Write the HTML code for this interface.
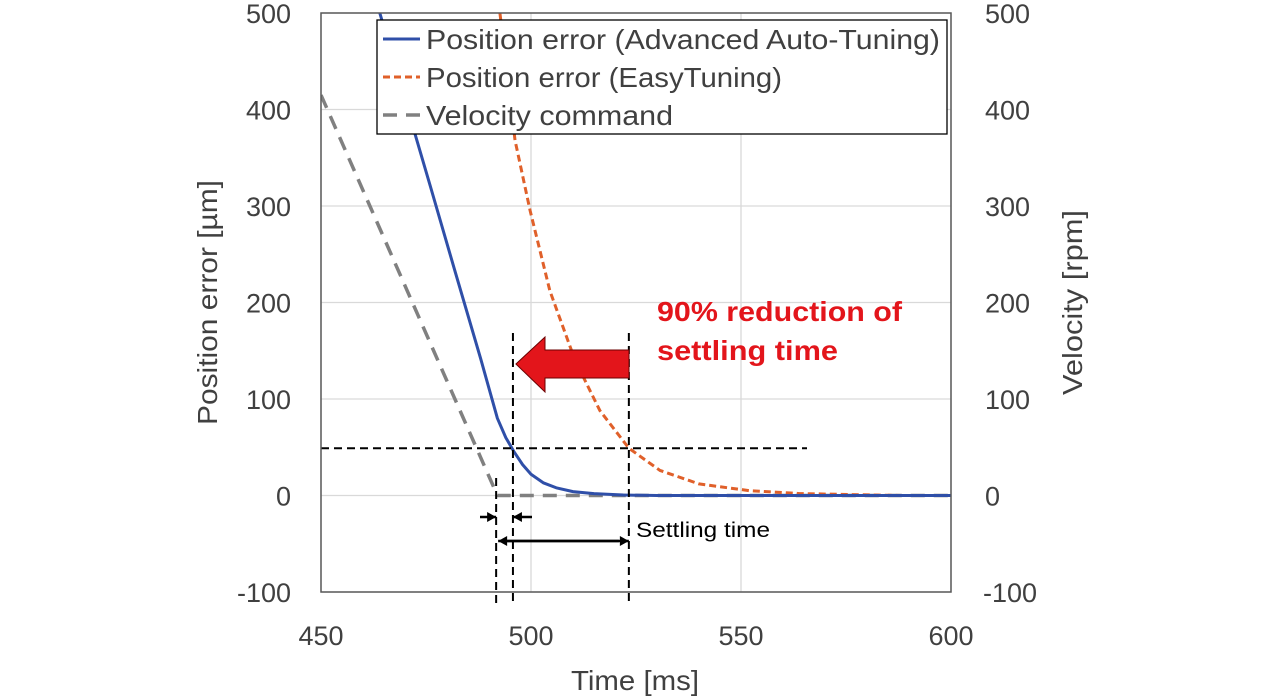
<!DOCTYPE html>
<html><head><meta charset="utf-8"><style>
body{margin:0;background:#fff;}
svg{display:block;font-family:"Liberation Sans",sans-serif;}
</style></head><body>
<svg id="chart" width="1284" height="698">
<g id="grid"></g><g id="series"></g><g id="annot"></g><g id="axes"></g>
</svg>
<script>
const xTicks=[450,500,550,600];
const yTicks=[500,400,300,200,100,0,-100];
const yRightTicks=[500,400,300,200,100,0,-100];
const blueX=[464,470,476,482,488,492,494,496,498,500,503,506,510,515,522,530,600];
const blueY=[500,410,321,231,142,80,60,45,32,22,13,8,4,2,0.5,0,0];
const orangeX=[492.6,496.2,499.8,504.5,510.5,516.4,523.3,530.7,540,552,564,588,600];
const orangeY=[500,368,295,212,140,88,49,26,12,5,2,0,0];
const velX=[450,492,600];
const velY=[415,0,0];
const threshold=49;
const markCmd=491.7, markAAT=495.7, markET=523.3;

const X0=321,X1=951,Y0=13,Y1=592;
const sx=v=>X0+(v-450)/150*(X1-X0);
const sy=v=>Y1-(v+100)/600*(Y1-Y0);
const NS="http://www.w3.org/2000/svg";
function mk(tag,attrs,parent,txt){const e=document.createElementNS(NS,tag);for(const k in attrs)e.setAttribute(k,attrs[k]);if(txt!==undefined)e.textContent=txt;document.getElementById(parent).appendChild(e);return e;}
yTicks.forEach(v=>{const l=mk('line',{x1:X0,x2:X1,y1:sy(v),y2:sy(v),stroke:'#d9d9d9','stroke-width':1.3},'grid');

});
xTicks.forEach(v=>{const l=mk('line',{x1:sx(v),x2:sx(v),y1:Y0,y2:Y1,stroke:'#d9d9d9','stroke-width':1.3},'grid');

});
const fr=mk('rect',{x:X0,y:Y0,width:X1-X0,height:Y1-Y0,fill:'none',stroke:'#595959','stroke-width':1.5},'axes');


function pts(xs,ys){return xs.map((x,i)=>sx(x)+','+sy(ys[i])).join(' ');}
const cp=mk('clipPath',{id:'clip'},'series');
const cr=document.createElementNS(NS,'rect');cr.setAttribute('x',X0);cr.setAttribute('y',Y0);cr.setAttribute('width',X1-X0);cr.setAttribute('height',Y1-Y0);cp.appendChild(cr);
const vl=mk('polyline',{points:pts(velX,velY),fill:'none',stroke:'#808080','stroke-width':3.5,'stroke-dasharray':'14 9','clip-path':'url(#clip)'},'series');


const ol=mk('polyline',{points:pts(orangeX,orangeY),fill:'none',stroke:'#e0602a','stroke-width':3,'stroke-dasharray':'7 4','clip-path':'url(#clip)','stroke-linejoin':'round'},'series');


const bl=mk('polyline',{points:pts(blueX,blueY),fill:'none',stroke:'#2f4fa8','stroke-width':3,'clip-path':'url(#clip)','stroke-linejoin':'round'},'series');


const d={stroke:'#000','stroke-width':2,'stroke-dasharray':'8 5'};
const th=mk('line',Object.assign({x1:X0,x2:807,y1:sy(threshold),y2:sy(threshold)},d),'annot');


[[markCmd,478],[markAAT,333],[markET,333]].forEach(([m,top])=>{const l=mk('line',Object.assign({x1:sx(m),x2:sx(m),y1:top,y2:606},d),'annot');

});
const ar=mk('polygon',{points:`${sx(markAAT)+3},364 545,337 545,350 629,350 629,378 545,378 545,392`,fill:'#e3151b',stroke:'#6b0000','stroke-width':1},'annot');


const t1=mk('text',{x:657,y:321,fill:'#e3151b','font-size':28,'font-weight':'bold',textLength:245,lengthAdjust:'spacingAndGlyphs'},'annot','90% reduction of');


const t2=mk('text',{x:657,y:360,fill:'#e3151b','font-size':28,'font-weight':'bold',textLength:181,lengthAdjust:'spacingAndGlyphs'},'annot','settling time');


function arrow(x1,x2,y,name){const l=mk('line',{x1:x1,x2:x2,y1:y,y2:y,stroke:'#000','stroke-width':2.5},'annot');


const dir=Math.sign(x2-x1);const h=mk('polygon',{points:`${x2},${y} ${x2-dir*9},${y-5} ${x2-dir*9},${y+5}`,fill:'#000'},'annot');

}
arrow(480,sx(markCmd),517,'delay-arrow-left');
arrow(532,sx(markAAT),517,'delay-arrow-right');
arrow(sx(markET)-10,sx(markCmd)+2,541,'settling-arrow-left');
arrow(sx(markCmd)+10,sx(markET),541,'settling-arrow-right');
const st=mk('text',{x:636,y:537,'font-size':21,fill:'#000',textLength:134,lengthAdjust:'spacingAndGlyphs'},'annot','Settling time');


yTicks.forEach(v=>{const t=mk('text',{x:291,y:sy(v)+10,'text-anchor':'end','font-size':27,fill:'#404040'},'axes',v);

});
yRightTicks.forEach(v=>{const t=mk('text',{x:v<0?983:985,y:sy(v)+10,'font-size':27,fill:'#404040'},'axes',v);

});
xTicks.forEach(v=>{const t=mk('text',{x:sx(v),y:645,'text-anchor':'middle','font-size':27,fill:'#404040'},'axes',v);

});
const xt=mk('text',{x:571,y:690,'font-size':28,fill:'#404040',textLength:128,lengthAdjust:'spacingAndGlyphs'},'axes','Time [ms]');


const yt=mk('text',{x:-425,y:217,transform:'rotate(-90)','font-size':28,fill:'#404040',textLength:245,lengthAdjust:'spacingAndGlyphs'},'axes','Position error [µm]');


const yt2=mk('text',{x:-395,y:1082,transform:'rotate(-90)','font-size':28,fill:'#404040',textLength:185,lengthAdjust:'spacingAndGlyphs'},'axes','Velocity [rpm]');


const lg=mk('rect',{x:377,y:20,width:570,height:114,fill:'#fff',stroke:'#000','stroke-width':1.3},'axes');


const items=[['Position error (Advanced Auto-Tuning)','#2f4fa8','none',3,514],['Position error (EasyTuning)','#e0602a','7 4',3,356],['Velocity command','#808080','14 9',3.5,247]];
items.forEach((it,i)=>{const y=39+i*38;
const l=mk('line',{x1:383,x2:420,y1:y,y2:y,stroke:it[1],'stroke-width':it[3],'stroke-dasharray':it[2]},'axes');


const t=mk('text',{x:426,y:y+10,'font-size':28,fill:'#404040',textLength:it[4],lengthAdjust:'spacingAndGlyphs'},'axes',it[0]);

});
</script>
</body></html>
